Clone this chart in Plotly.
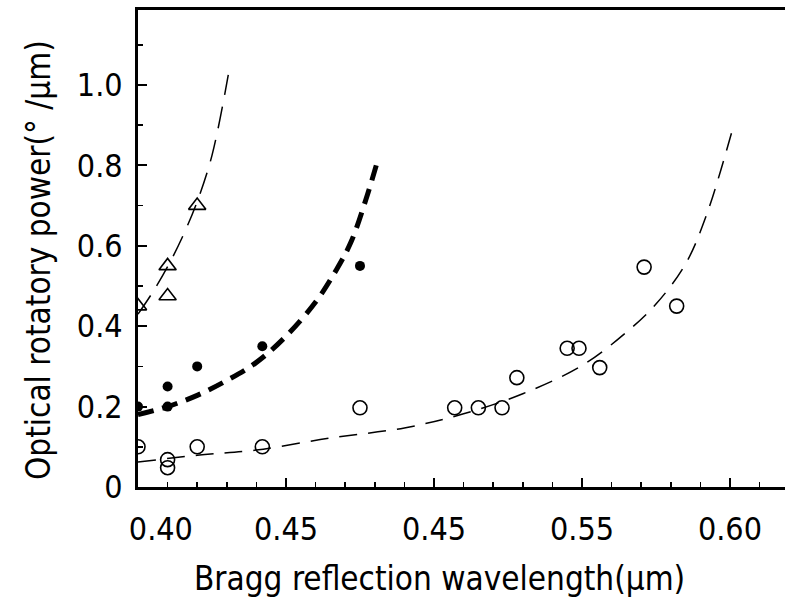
import plotly.graph_objects as go

# ---- data ----
tri_x = [0.400, 0.410, 0.410, 0.420]
tri_y = [0.450, 0.550, 0.475, 0.700]

dot_x = [0.400, 0.410, 0.410, 0.420, 0.442, 0.475]
dot_y = [0.200, 0.250, 0.200, 0.300, 0.350, 0.550]

ring_x = [0.400, 0.410, 0.410, 0.420, 0.442, 0.475, 0.507, 0.515, 0.523,
          0.528, 0.545, 0.549, 0.556, 0.571, 0.582]
ring_y = [0.100, 0.068, 0.048, 0.100, 0.100, 0.197, 0.197, 0.197, 0.197,
          0.272, 0.345, 0.345, 0.297, 0.547, 0.450]

fitA_x = [0.400, 0.405, 0.410, 0.415, 0.420, 0.425, 0.4305]
fitA_y = [0.430, 0.485, 0.548, 0.622, 0.710, 0.825, 1.025]

fitB_x = [0.400, 0.410, 0.420, 0.430, 0.440, 0.450, 0.460, 0.467, 0.472, 0.477, 0.4805]
fitB_y = [0.180, 0.200, 0.228, 0.265, 0.310, 0.375, 0.460, 0.540, 0.610, 0.715, 0.800]

fitC_x = [0.400, 0.420, 0.440, 0.465, 0.490, 0.510, 0.530, 0.550, 0.565,
          0.575, 0.585, 0.592, 0.6005]
fitC_y = [0.062, 0.079, 0.092, 0.122, 0.147, 0.182, 0.232, 0.302, 0.385,
          0.455, 0.555, 0.675, 0.880]

x_tickvals = [0.40, 0.45, 0.50, 0.55, 0.60]
x_ticktext = ["\u00a0\u00a0\u00a0\u00a0\u00a00.40", "0.45", "0.45", "0.55", "0.60"]
x_minor = [0.41, 0.42, 0.43, 0.44, 0.46, 0.47, 0.48, 0.49, 0.51, 0.52, 0.53,
           0.54, 0.56, 0.57, 0.58, 0.59, 0.61]
y_tickvals = [0, 0.2, 0.4, 0.6, 0.8, 1.0]
y_ticktext = ["0", "0.2", "0.4", "0.6", "0.8", "1.0"]
y_minor = [0.1, 0.3, 0.5, 0.7, 0.9, 1.1]

x_title = "Bragg reflection wavelength(μm)"
y_title = "Optical rotatory power(° /μm)"

FONT = "DejaVu Sans Condensed, Liberation Sans Narrow, DejaVu Sans, sans-serif"

fig = go.Figure()

fig.add_trace(go.Scatter(x=fitA_x, y=fitA_y, mode="lines", line_shape="spline",
                         line=dict(color="black", width=1.5, dash="22px,12px"),
                         showlegend=False, hoverinfo="skip"))
fig.add_trace(go.Scatter(x=fitB_x, y=fitB_y, mode="lines", line_shape="spline",
                         line=dict(color="black", width=5, dash="16px,9px"),
                         showlegend=False, hoverinfo="skip"))
fig.add_trace(go.Scatter(x=fitC_x, y=fitC_y, mode="lines", line_shape="spline",
                         line=dict(color="black", width=1.5, dash="18px,11px"),
                         showlegend=False, hoverinfo="skip"))

fig.add_trace(go.Scatter(x=tri_x, y=tri_y, mode="markers", showlegend=False,
                         marker=dict(symbol="triangle-up-open", size=15, color="black",
                                     line=dict(width=1.6, color="black"))))
fig.add_trace(go.Scatter(x=dot_x, y=dot_y, mode="markers", showlegend=False,
                         marker=dict(symbol="circle", size=10, color="black")))
fig.add_trace(go.Scatter(x=ring_x, y=ring_y, mode="markers", showlegend=False,
                         marker=dict(symbol="circle-open", size=14, color="black",
                                     line=dict(width=1.6, color="black"))))

fig.update_layout(
    width=785, height=608,
    margin=dict(l=138, r=0, t=10, b=121),
    paper_bgcolor="white", plot_bgcolor="white",
    font=dict(family=FONT, color="black", size=32),
    xaxis=dict(range=[0.40, 0.6186], showgrid=False, zeroline=False, automargin=False,
               showline=True, linecolor="black", linewidth=3, mirror=True,
               tickmode="array", tickvals=x_tickvals, ticktext=x_ticktext,
               ticks="inside", ticklen=9, tickwidth=2, tickcolor="black",
               ticklabelstandoff=12,
               tickfont=dict(family=FONT, size=32, color="black"),
               minor=dict(tickmode="array", tickvals=x_minor, ticks="inside",
                          ticklen=5, tickwidth=1.5, tickcolor="black")),
    yaxis=dict(range=[0, 1.1866], showgrid=False, zeroline=False, automargin=False,
               showline=True, linecolor="black", linewidth=3, mirror=False,
               tickmode="array", tickvals=y_tickvals, ticktext=y_ticktext,
               ticks="inside", ticklen=9, tickwidth=2, tickcolor="black",
               ticklabelstandoff=6,
               tickfont=dict(family=FONT, size=32, color="black"),
               minor=dict(tickmode="array", tickvals=y_minor, ticks="inside",
                          ticklen=5, tickwidth=1.5, tickcolor="black")),
    annotations=[
        dict(text=x_title, xref="paper", yref="paper",
             x=(439 - 138) / 647, y=-(578 - 487) / 477,
             xanchor="center", yanchor="middle", showarrow=False,
             font=dict(family=FONT, size=33, color="black")),
        dict(text=y_title, xref="paper", yref="paper",
             x=-(138 - 38) / 647, y=(487 - 260) / 477, textangle=-90,
             xanchor="center", yanchor="middle", showarrow=False,
             font=dict(family=FONT, size=33, color="black")),
    ],
)

fig.write_html("out.html",
               config={"displayModeBar": False, "staticPlot": True},
               post_script="document.body.style.margin='0';"
                           "document.body.style.overflow='hidden';")
